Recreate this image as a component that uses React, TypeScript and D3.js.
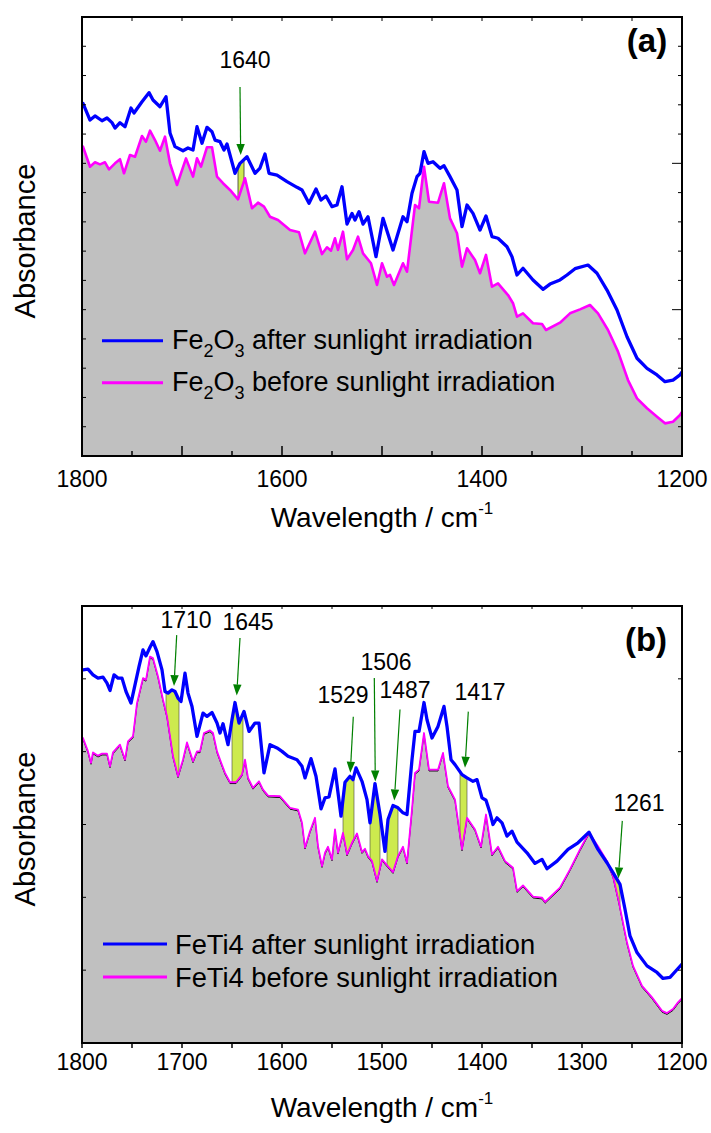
import React from "react";
import * as d3 from "d3";

type Pt = [number, number];

// ---------- DATA ----------
const xTickValues = [1800, 1750, 1700, 1650, 1600, 1550, 1500, 1450, 1400, 1350, 1300, 1250, 1200];
const xLabelsA = [1800, 1600, 1400, 1200];
const xLabelsB = [1800, 1700, 1600, 1500, 1400, 1300, 1200];

const fe2o3After: Pt[] = [[1800,2.41],[1799,2.41],[1792,2.296],[1787,2.324],[1780,2.291],[1775,2.31],[1770,2.278],[1767,2.241],[1762,2.278],[1757,2.25],[1751,2.378],[1748,2.344],[1740,2.421],[1733,2.483],[1729,2.433],[1722,2.387],[1716,2.455],[1712,2.207],[1707,2.114],[1699,2.086],[1694,2.105],[1689,2.091],[1685,2.25],[1680,2.137],[1675,2.246],[1670,2.216],[1667,2.159],[1662,2.148],[1658,2.091],[1655,2.132],[1647,1.932],[1642,2.0],[1635,2.045],[1627,1.932],[1622,1.968],[1617,2.064],[1613,1.932],[1605,1.92],[1595,1.875],[1585,1.836],[1580,1.818],[1573,1.727],[1566,1.825],[1561,1.749],[1556,1.777],[1550,1.704],[1545,1.715],[1540,1.84],[1535,1.585],[1530,1.658],[1527,1.613],[1523,1.67],[1519,1.585],[1514,1.635],[1506,1.362],[1499,1.624],[1489,1.408],[1479,1.635],[1475,1.601],[1470,1.795],[1465,1.909],[1462,1.932],[1458,2.08],[1454,2.0],[1449,2.011],[1442,1.966],[1438,1.984],[1432,1.909],[1425,1.818],[1420,1.567],[1415,1.715],[1409,1.658],[1402,1.544],[1396,1.64],[1390,1.499],[1384,1.488],[1375,1.43],[1370,1.362],[1365,1.237],[1359,1.283],[1349,1.203],[1339,1.139],[1332,1.175],[1322,1.203],[1315,1.237],[1307,1.28],[1294,1.305],[1285,1.249],[1275,1.134],[1265,0.998],[1255,0.815],[1245,0.668],[1235,0.599],[1225,0.554],[1217,0.508],[1209,0.519],[1202,0.554],[1200,0.574]];

const fe2o3Before: Pt[] = [[1800,2.114],[1799,2.114],[1792,1.977],[1787,2.007],[1782,1.993],[1777,2.007],[1773,1.959],[1767,2.0],[1762,2.028],[1758,1.932],[1752,2.057],[1747,2.045],[1740,2.187],[1736,2.148],[1732,2.223],[1727,2.159],[1722,2.086],[1717,2.182],[1712,2.0],[1705,1.852],[1696,2.034],[1689,1.909],[1685,2.034],[1681,1.977],[1675,2.11],[1670,2.11],[1665,1.909],[1659,1.864],[1652,1.818],[1644,1.754],[1637,1.898],[1630,1.693],[1624,1.731],[1618,1.704],[1612,1.635],[1604,1.613],[1592,1.544],[1583,1.529],[1577,1.385],[1567,1.533],[1560,1.38],[1555,1.426],[1551,1.403],[1547,1.488],[1544,1.408],[1539,1.533],[1535,1.344],[1529,1.408],[1524,1.499],[1519,1.385],[1511,1.317],[1505,1.169],[1500,1.317],[1495,1.225],[1492,1.237],[1488,1.169],[1479,1.317],[1475,1.259],[1470,1.544],[1467,1.715],[1463,1.693],[1458,1.977],[1453,1.738],[1444,1.731],[1438,1.864],[1432,1.624],[1425,1.522],[1420,1.294],[1415,1.419],[1407,1.339],[1402,1.249],[1396,1.374],[1390,1.157],[1384,1.18],[1374,1.1],[1369,1.044],[1365,0.952],[1359,0.975],[1349,0.907],[1340,0.902],[1336,0.861],[1322,0.911],[1312,0.975],[1302,1.002],[1292,1.032],[1284,0.975],[1274,0.861],[1264,0.713],[1254,0.519],[1245,0.394],[1235,0.326],[1225,0.269],[1217,0.223],[1209,0.234],[1202,0.28],[1200,0.301]];

const feti4After: Pt[] = [[1800,5.123],[1799,5.123],[1794,5.133],[1789,5.055],[1784,5.01],[1779,5.023],[1775,4.941],[1772,4.84],[1768,5.055],[1764,5.01],[1760,5.01],[1756,4.826],[1751,4.667],[1747,4.918],[1743,5.168],[1739,5.397],[1736,5.315],[1732,5.434],[1729,5.511],[1725,5.374],[1720,5.123],[1717,4.826],[1714,4.804],[1710,4.849],[1707,4.826],[1704,4.736],[1701,4.689],[1697,5.078],[1694,4.804],[1690,4.621],[1685,4.21],[1679,4.53],[1675,4.484],[1670,4.538],[1665,4.393],[1662,4.256],[1659,4.384],[1654,4.096],[1650,4.438],[1647,4.675],[1643,4.393],[1638,4.552],[1633,4.278],[1627,4.393],[1623,4.393],[1618,3.708],[1612,4.096],[1605,4.051],[1600,4.004],[1594,3.936],[1585,3.89],[1580,3.799],[1577,3.64],[1571,3.904],[1566,3.662],[1561,3.215],[1557,3.366],[1553,3.379],[1547,3.763],[1541,3.114],[1537,3.58],[1532,3.662],[1529,3.616],[1526,3.777],[1520,3.593],[1515,3.342],[1512,3.023],[1507,3.562],[1502,3.137],[1497,2.63],[1494,3.068],[1489,3.26],[1484,3.229],[1479,3.16],[1475,3.137],[1470,3.89],[1467,4.278],[1463,4.278],[1458,4.675],[1455,4.438],[1450,4.188],[1444,4.347],[1438,4.621],[1435,4.347],[1431,3.89],[1427,3.822],[1420,3.685],[1415,3.64],[1409,3.593],[1405,3.616],[1400,3.366],[1396,3.333],[1392,3.16],[1389,3.0],[1385,3.092],[1380,3.023],[1375,2.84],[1370,2.908],[1365,2.758],[1355,2.612],[1347,2.466],[1340,2.521],[1335,2.393],[1325,2.497],[1314,2.658],[1304,2.749],[1293,2.895],[1284,2.658],[1275,2.475],[1269,2.338],[1262,2.178],[1257,1.836],[1252,1.47],[1245,1.242],[1235,1.059],[1225,0.968],[1219,0.886],[1212,0.9],[1204,1.023],[1200,1.082]];

const feti4Before: Pt[] = [[1800,4.188],[1799,4.188],[1794,4.004],[1791,3.845],[1789,3.99],[1784,3.945],[1780,3.973],[1775,3.973],[1772,3.799],[1769,3.99],[1765,4.051],[1762,4.096],[1757,3.89],[1754,4.141],[1749,4.21],[1745,4.667],[1739,5.01],[1736,4.986],[1732,5.305],[1729,5.284],[1724,5.032],[1719,4.712],[1715,4.484],[1709,3.936],[1704,3.662],[1699,3.89],[1695,4.127],[1689,3.867],[1685,4.004],[1682,4.004],[1678,4.256],[1672,4.292],[1669,4.256],[1665,4.004],[1662,3.89],[1657,3.708],[1652,3.58],[1646,3.58],[1640,3.685],[1637,3.89],[1634,3.64],[1629,3.503],[1623,3.593],[1619,3.479],[1614,3.397],[1602,3.388],[1592,3.229],[1584,3.205],[1580,3.023],[1577,2.681],[1572,2.908],[1567,3.092],[1564,2.703],[1560,2.429],[1557,2.612],[1554,2.695],[1550,2.521],[1547,2.932],[1544,2.612],[1539,2.886],[1535,2.589],[1530,2.749],[1525,2.877],[1520,2.621],[1517,2.667],[1514,2.566],[1510,2.497],[1505,2.223],[1500,2.521],[1494,2.425],[1489,2.347],[1484,2.566],[1479,2.695],[1475,2.475],[1470,3.205],[1467,3.708],[1463,3.753],[1458,4.256],[1453,3.753],[1444,3.753],[1439,3.982],[1434,3.525],[1427,3.342],[1420,2.658],[1415,3.092],[1407,2.932],[1401,2.695],[1396,3.137],[1390,2.589],[1384,2.695],[1377,2.497],[1369,2.407],[1365,2.086],[1359,2.164],[1349,2.01],[1340,1.996],[1337,1.936],[1322,2.133],[1312,2.384],[1302,2.658],[1293,2.886],[1284,2.703],[1275,2.497],[1269,2.292],[1263,1.927],[1255,1.379],[1249,1.059],[1240,0.785],[1230,0.626],[1220,0.442],[1215,0.411],[1209,0.466],[1204,0.558],[1200,0.616]];

// highlighted bands [from, to] in cm-1
const highlightsA: Pt[] = [[1644, 1638]];
const highlightsB: Pt[] = [[1716,1703],[1650,1639],[1539,1528],[1512,1502],[1495,1484],[1422,1415],[1273,1262]];

type Ann = { label: string; text: Pt; tail: Pt; tip: Pt };
const annotationsA: Ann[] = [
  { label: "1640", text: [1637, 2.652], tail: [1642, 2.522], tip: [1641.3, 2.057] },
];
const annotationsB: Ann[] = [
  { label: "1710", text: [1696, 5.70], tail: [1705.3, 5.60], tip: [1708, 4.90] },
  { label: "1645", text: [1634, 5.67], tail: [1642, 5.56], tip: [1645.3, 4.77] },
  { label: "1529", text: [1539, 4.675], tail: [1528.7, 4.48], tip: [1531.7, 3.71] },
  { label: "1506", text: [1496, 5.12], tail: [1507.7, 5.01], tip: [1506.7, 3.59] },
  { label: "1487", text: [1477, 4.74], tail: [1482, 4.58], tip: [1487.7, 3.33] },
  { label: "1417", text: [1402, 4.71], tail: [1413.7, 4.55], tip: [1417, 3.78] },
  { label: "1261", text: [1243, 3.18], tail: [1259.7, 3.05], tip: [1263.7, 2.26] },
];

const legendA = ["after sunlight irradiation", "before sunlight irradiation"];
const legendB = ["FeTi4 after sunlight irradiation", "FeTi4 before sunlight irradiation"];

// ---------- STYLE ----------
const FONT = "'Liberation Sans', Arial, Helvetica, sans-serif";
const BLUE = "#0000ff";
const MAGENTA = "#ff00ff";
const GRAY = "#c0c0c0";
const YELLOW = "#cdea4e";
const GREEN = "#008000";

function interp(series: Pt[], wn: number): number {
  for (let i = 0; i < series.length - 1; i++) {
    const [x0, y0] = series[i];
    const [x1, y1] = series[i + 1];
    if (wn <= x0 && wn >= x1) {
      const t = x0 === x1 ? 0 : (x0 - wn) / (x0 - x1);
      return y0 + t * (y1 - y0);
    }
  }
  return series[series.length - 1][1];
}

type PanelProps = {
  top: number; bottom: number; left: number; right: number;
  yDomain: [number, number]; yStep: number;
  after: Pt[]; before: Pt[];
  highlights: Pt[]; annotations: Ann[];
  xLabels: number[];
  variant: "a" | "b";
};

function Panel(p: PanelProps) {
  const x = d3.scaleLinear().domain([1800, 1200]).range([p.left, p.right]);
  const y = d3.scaleLinear().domain(p.yDomain).range([p.bottom, p.top]);
  const line = d3.line<Pt>().x(d => x(d[0])).y(d => y(d[1]));
  const area = d3.area<Pt>().x(d => x(d[0])).y0(p.bottom).y1(d => y(d[1]));
  const yTicks = d3.range(p.yDomain[0], p.yDomain[1] + 1e-6, p.yStep);

  const bands = p.highlights.map(([a, b]) => {
    const hi = Math.max(a, b), lo = Math.min(a, b);
    const xs = Array.from(new Set([hi, lo,
      ...p.after.map(d => d[0]).filter(v => v < hi && v > lo),
      ...p.before.map(d => d[0]).filter(v => v < hi && v > lo)])).sort((m, n) => n - m);
    const pts = xs.map(w => ({ w, t: interp(p.after, w), b: interp(p.before, w) }));
    const ar = d3.area<{ w: number; t: number; b: number }>()
      .x(d => x(d.w)).y0(d => y(d.b)).y1(d => y(d.t));
    return ar(pts) as string;
  });

  const isA = p.variant === "a";
  return (
    <g>
      <defs>
        <clipPath id={"clip" + p.variant}>
          <rect x={p.left} y={p.top} width={p.right - p.left} height={p.bottom - p.top} />
        </clipPath>
      </defs>
      <g clipPath={`url(#clip${p.variant})`}>
        <path d={area(p.before) as string} fill={GRAY} />
        {bands.map((d, i) => (
          <path key={i} d={d} fill={YELLOW} stroke={isA ? "#333" : "#444"} strokeWidth={isA ? 0.8 : 0.6} />
        ))}
        {!isA && <path d={line(p.before) as string} fill="none" stroke="#000" strokeWidth={1} transform="translate(0,1.3)" />}
        <path d={line(p.before) as string} fill="none" stroke={MAGENTA} strokeWidth={isA ? 2.6 : 1.8} strokeLinejoin="round" />
        <path d={line(p.after) as string} fill="none" stroke={BLUE} strokeWidth={3.3} strokeLinejoin="round" />
      </g>

      {/* annotations */}
      {p.annotations.map((a, i) => {
        const x1 = x(a.tail[0]), y1 = y(a.tail[1]);
        const x2 = x(a.tip[0]), y2 = y(a.tip[1]);
        const dx = x2 - x1, dy = y2 - y1;
        const len = Math.hypot(dx, dy);
        const ux = dx / len, uy = dy / len;
        const hl = 11, hw = 4.2;
        const bx = x2 - ux * hl, by = y2 - uy * hl;
        const head = `${x2},${y2} ${bx - uy * hw},${by + ux * hw} ${bx + uy * hw},${by - ux * hw}`;
        return (
          <g key={i}>
            <line x1={x1} y1={y1} x2={bx} y2={by} stroke={GREEN} strokeWidth={1.2} />
            <polygon points={head} fill={GREEN} />
            <text x={x(a.text[0])} y={y(a.text[1])} textAnchor="middle" fontSize={23} fontFamily={FONT} fill="#000">{a.label}</text>
          </g>
        );
      })}

      {/* frame */}
      <rect x={p.left} y={p.top} width={p.right - p.left} height={p.bottom - p.top} fill="none" stroke="#000" strokeWidth={2} />

      {/* x ticks */}
      {xTickValues.map(v => {
        const major = v % 100 === 0;
        const xx = x(v);
        return (
          <g key={"xt" + v}>
            {isA ? (
              <line x1={xx} x2={xx} y1={p.bottom} y2={p.bottom - (major ? 10 : 5)} stroke="#000" strokeWidth={1.5} />
            ) : (
              <line x1={xx} x2={xx} y1={p.bottom} y2={p.bottom + 5} stroke="#000" strokeWidth={1.5} />
            )}
            <line x1={xx} x2={xx} y1={p.top} y2={p.top + (isA ? 4 : 3)} stroke="#000" strokeWidth={1} />
          </g>
        );
      })}
      {p.xLabels.map(v => (
        <text key={"xl" + v} x={x(v)} y={p.bottom + (isA ? 31 : 27)} textAnchor="middle" fontSize={23} fontFamily={FONT} fill="#000">{v}</text>
      ))}

      {/* y ticks */}
      {yTicks.map((v, i) => {
        const yy = y(v);
        const major = isA && Math.abs(v - Math.round(v)) < 1e-6;
        return (
          <g key={"yt" + i}>
            <line x1={p.left} x2={p.left + 4} y1={yy} y2={yy} stroke="#000" strokeWidth={1} />
            <line x1={p.right} x2={p.right - (major ? 10 : 4)} y1={yy} y2={yy} stroke="#000" strokeWidth={1} />
          </g>
        );
      })}
    </g>
  );
}

export default function App() {
  const L = 82, R = 682;
  return (
    <svg width={711} height={1133} viewBox="0 0 711 1133" style={{ position: "absolute", left: 0, top: 0, background: "#fff" }} fontFamily={FONT}>
      <rect x={0} y={0} width={711} height={1133} fill="#fff" />

      {/* Panel (a) */}
      <Panel top={17} bottom={456} left={L} right={R} yDomain={[0, 3]} yStep={0.2}
        after={fe2o3After} before={fe2o3Before} highlights={highlightsA} annotations={annotationsA}
        xLabels={xLabelsA} variant="a" />
      <text x={647} y={52} textAnchor="middle" fontSize={33} fontWeight="bold" fontFamily={FONT}>(a)</text>
      <text transform="translate(35,241) rotate(-90)" textAnchor="middle" fontSize={29} fontFamily={FONT}>Absorbance</text>
      <text x={382} y={527} textAnchor="middle" fontSize={28} fontFamily={FONT}>
        Wavelength / cm<tspan fontSize={17} dy={-13}>-1</tspan>
      </text>
      {/* legend (a) */}
      {legendA.map((t, i) => {
        const ly = 340.7 + i * 42;
        return (
          <g key={"la" + i}>
            <line x1={102} x2={163} y1={ly} y2={ly} stroke={i === 0 ? BLUE : MAGENTA} strokeWidth={3} />
            <text x={172} y={ly + 8} fontSize={27} fontFamily={FONT}>
              Fe<tspan fontSize={18} dy={8}>2</tspan><tspan dy={-8}>O</tspan><tspan fontSize={18} dy={8}>3</tspan><tspan dy={-8}>{" " + t}</tspan>
            </text>
          </g>
        );
      })}

      {/* Panel (b) */}
      <Panel top={606} bottom={1043} left={L} right={R} yDomain={[0, 6]} yStep={1}
        after={feti4After} before={feti4Before} highlights={highlightsB} annotations={annotationsB}
        xLabels={xLabelsB} variant="b" />
      <text x={646} y={651} textAnchor="middle" fontSize={33} fontWeight="bold" fontFamily={FONT}>(b)</text>
      <text transform="translate(35,829) rotate(-90)" textAnchor="middle" fontSize={29} fontFamily={FONT}>Absorbance</text>
      <text x={382} y={1117} textAnchor="middle" fontSize={28} fontFamily={FONT}>
        Wavelength / cm<tspan fontSize={17} dy={-13}>-1</tspan>
      </text>
      {legendB.map((t, i) => {
        const ly = 944 + i * 33;
        return (
          <g key={"lb" + i}>
            <line x1={103} x2={167} y1={ly} y2={ly} stroke={i === 0 ? BLUE : MAGENTA} strokeWidth={3} />
            <text x={175} y={ly + 9.5} fontSize={27.3} fontFamily={FONT}>{t}</text>
          </g>
        );
      })}
    </svg>
  );
}
